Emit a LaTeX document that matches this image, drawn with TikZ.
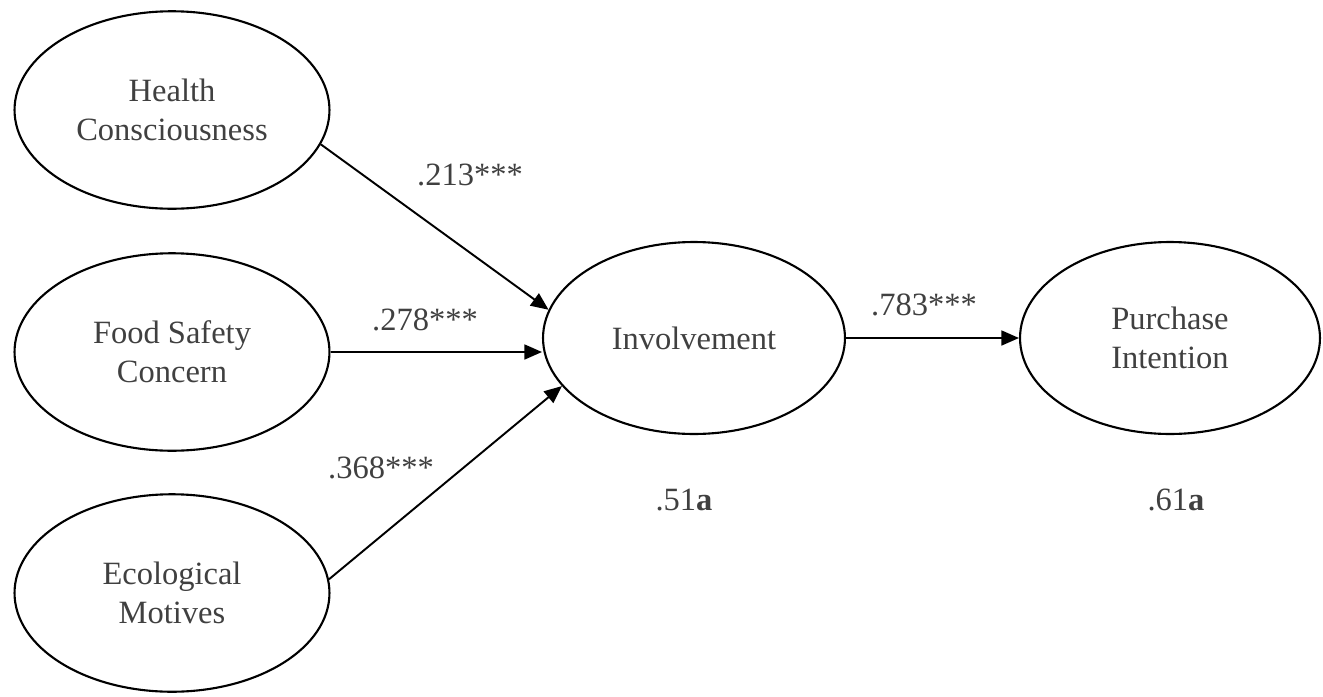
\documentclass[tikz,border=0pt]{standalone}
\usepackage{fontspec}
\setmainfont{Liberation Serif}
\usepackage{tikz}
\usetikzlibrary{shapes, arrows.meta, positioning, calc}

\begin{document}
\begin{tikzpicture}[x=0.02cm, y=-0.02cm, every node/.style={font=\fontsize{18.5}{22}\selectfont, text=black!75}]
	\tikzstyle{latc}=[ellipse, draw=black, line width=1.2pt, minimum width=6.3cm, minimum height=3.95cm, align=center, inner sep=0pt]
	\tikzstyle{pathc}=[draw=black, line width=1.1pt, -{Triangle[length=10pt,width=8.5pt]}]
	
	\useasboundingbox (0,0) rectangle (1323,697);
	
	\node (hc) at (172,110) [latc] {Health\\Consciousness};
	\node (fsc) at (172,352) [latc] {Food Safety\\Concern};
	\node (em) at (172,593) [latc] {Ecological\\Motives};
	
	\node (inv) at (694,338) [latc, minimum width=6.04cm, minimum height=3.84cm] {Involvement};
	\node (pint) at (1170,338) [latc, minimum width=6.0cm, minimum height=3.84cm] {Purchase\\Intention};
	
	\draw[pathc] (hc.-13) -- (inv.169);
	\draw[pathc] (fsc.east) -- (fsc.east -| inv.west);
	\draw[pathc] (em.5) -- (inv.200);
	
	\draw[pathc] (inv.east) -- (pint.west);
	
	\node (l213) at (470,175) {.213***};
	\node (l278) at (425,320) {.278***};
	\node (l368) at (381,468) {.368***};
	\node (l783) at (924,305) {.783***};
	
	\node (r51) at (684,500) {.51\textbf{a}};
	\node (r61) at (1176,500) {.61\textbf{a}};
\end{tikzpicture}
\end{document}
